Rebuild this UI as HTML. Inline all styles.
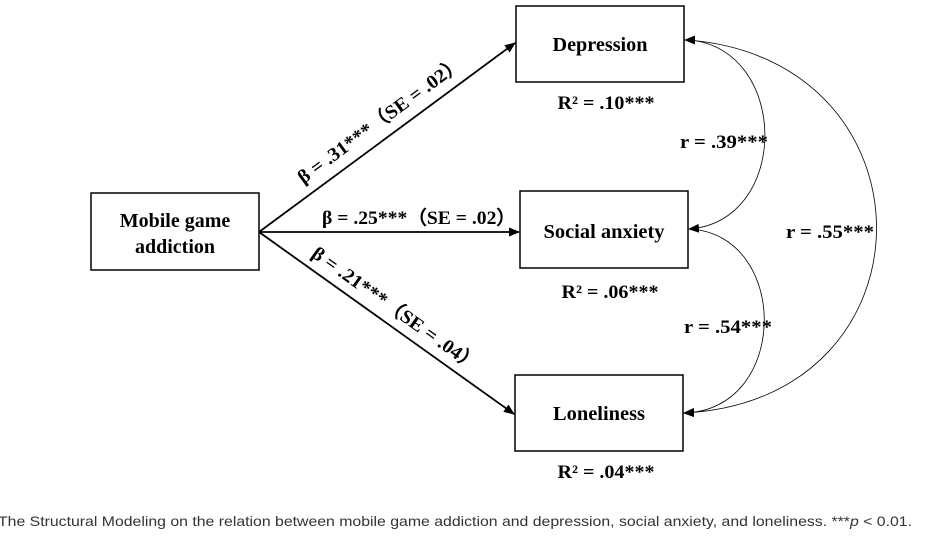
<!DOCTYPE html>
<html><head><meta charset="utf-8"><style>
html,body{margin:0;padding:0;background:#fff;}
svg{display:block}
.b{font-family:"Liberation Serif",serif;font-weight:bold;font-size:20px;fill:#000}
.l{font-family:"Liberation Serif",serif;font-weight:bold;font-size:19px;fill:#000}
</style></head><body>
<svg width="942" height="541" viewBox="0 0 942 541" xmlns="http://www.w3.org/2000/svg">
<defs>
<marker id="a" markerWidth="11" markerHeight="9" refX="10" refY="4.5" orient="auto" markerUnits="userSpaceOnUse">
<path d="M0,0 L11,4.5 L0,9 z" fill="#000"/></marker>
</defs>
<rect x="0" y="0" width="942" height="541" fill="#fff"/>
<rect x="91" y="193" width="168" height="77" fill="none" stroke="#000" stroke-width="1.5"/>
<text class="b" x="175" y="227" text-anchor="middle">Mobile game</text>
<text class="b" x="175" y="253" text-anchor="middle">addiction</text>
<rect x="516" y="6" width="168" height="76" fill="none" stroke="#000" stroke-width="1.5"/>
<text class="b" x="600" y="51" text-anchor="middle" textLength="95" lengthAdjust="spacingAndGlyphs">Depression</text>
<rect x="520" y="191" width="168" height="77" fill="none" stroke="#000" stroke-width="1.5"/>
<text class="b" x="604" y="238" text-anchor="middle" textLength="121" lengthAdjust="spacingAndGlyphs">Social anxiety</text>
<rect x="515" y="375" width="168" height="76" fill="none" stroke="#000" stroke-width="1.5"/>
<text class="b" x="599" y="420" text-anchor="middle" textLength="92" lengthAdjust="spacingAndGlyphs">Loneliness</text>
<text class="l" x="606" y="109" text-anchor="middle" textLength="97" lengthAdjust="spacingAndGlyphs">R² = .10***</text>
<text class="l" x="610" y="298" text-anchor="middle" textLength="97" lengthAdjust="spacingAndGlyphs">R² = .06***</text>
<text class="l" x="606" y="478" text-anchor="middle" textLength="97" lengthAdjust="spacingAndGlyphs">R² = .04***</text>
<line x1="259" y1="232" x2="515" y2="43" stroke="#000" stroke-width="1.8" marker-end="url(#a)"/>
<line x1="259" y1="232" x2="519" y2="232" stroke="#000" stroke-width="1.8" marker-end="url(#a)"/>
<line x1="259" y1="232" x2="514" y2="414" stroke="#000" stroke-width="1.8" marker-end="url(#a)"/>
<text class="l" transform="translate(384,125) rotate(-36.3)" text-anchor="middle" textLength="200" lengthAdjust="spacingAndGlyphs">β = .31***（SE = .02）</text>
<text class="l" x="419" y="224" text-anchor="middle" textLength="194" lengthAdjust="spacingAndGlyphs">β = .25***（SE = .02）</text>
<text class="l" transform="translate(392,314) rotate(35.4)" text-anchor="middle" textLength="200" lengthAdjust="spacingAndGlyphs">β = .21***（SE = .04）</text>
<path d="M690,40 C790,50 790,222 689,229" fill="none" stroke="#000" stroke-width="0.8" marker-end="url(#a)"/>
<path d="M690,229 C790,235 790,410 684,413" fill="none" stroke="#000" stroke-width="0.8" marker-end="url(#a)"/>
<path d="M688,40 C940,60 940,400 684,413" fill="none" stroke="#000" stroke-width="0.8" marker-end="url(#a)"/>
<polygon points="684,40 695,35.5 695,44.5" fill="#000"/>
<text class="l" x="724" y="148" text-anchor="middle" textLength="88" lengthAdjust="spacingAndGlyphs">r = .39***</text>
<text class="l" x="830" y="238" text-anchor="middle" textLength="88" lengthAdjust="spacingAndGlyphs">r = .55***</text>
<text class="l" x="728" y="333" text-anchor="middle" textLength="88" lengthAdjust="spacingAndGlyphs">r = .54***</text>
<text x="-2" y="526" font-family="Liberation Sans, sans-serif" font-size="14" fill="#333" textLength="914" lengthAdjust="spacingAndGlyphs">The Structural Modeling on the relation between mobile game addiction and depression, social anxiety, and loneliness. ***<tspan font-style="italic">p</tspan> &lt; 0.01.</text>
</svg>
</body></html>
